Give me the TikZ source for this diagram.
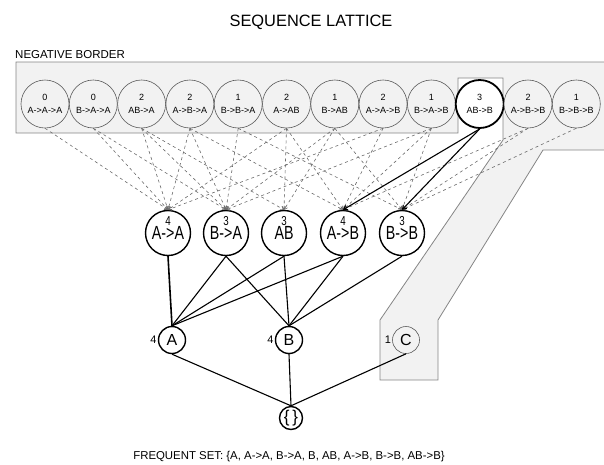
\documentclass[tikz,border=0pt]{standalone}
\usepackage{fontspec}
\setmainfont{Liberation Sans}
\newfontfamily\narrowfont[FakeStretch=0.75]{Liberation Sans}
\usetikzlibrary{arrows.meta}

\definecolor{regiongray}{HTML}{F2F2F2}
\definecolor{regionline}{HTML}{858585}
\definecolor{negline}{HTML}{5A5A5A}
\definecolor{dashline}{HTML}{6A6A6A}

\tikzset{
  negnode/.style={circle, draw=negline, line width=0.6pt, fill=regiongray,
    minimum size=48pt, inner sep=0pt, align=center,
    font=\fontsize{9}{12.5}\selectfont},
  freqneg/.style={negnode, draw=black, line width=1.8pt, fill=white},
  seqnode/.style={circle, draw=black, line width=1.4pt, fill=white,
    minimum size=45pt, inner sep=0pt, font=\narrowfont\fontsize{19}{19}\selectfont},
  itemnode/.style={circle, draw=black, line width=1.4pt, fill=white,
    minimum size=27pt, inner sep=0pt, font=\fontsize{16}{16}\selectfont,
    label distance=2pt},
  infreq/.style={itemnode, draw=negline, line width=0.6pt, fill=regiongray},
  countlab/.style={font=\fontsize{11}{11}\selectfont, inner sep=1pt},
  seqcount/.style={font=\narrowfont\fontsize{13}{13}\selectfont, inner sep=0pt},
  dashedge/.style={dashed, draw=dashline, line width=0.6pt,
    -{Straight Barb[length=3pt,width=4pt]}},
  solidedge/.style={draw=black, line width=1.1pt},
  headedge/.style={solidedge, -{Straight Barb[length=3.5pt,width=5pt]}}
}

\begin{document}
\begin{tikzpicture}[x=1pt, y=-1pt]
  \def \xstart {45}
  \def \xstep  {48.3}
  \def \ytop   {104}
  \def \yseq   {233}
  \def \yitem  {340}
  \def \yempty {418}

  \useasboundingbox (0,0) rectangle (604,464);

% negative border region
  \filldraw [fill=regiongray, draw=regionline, line width=0.8pt]
    (16,62) -- (620,62) -- (620,150) -- (543,150) -- (438,320) -- (438,380)
    -- (380,380) -- (380,320) -- (503,140) -- (503,78) -- (458,78) -- (458,133)
    -- (16,133) -- cycle;

% titles
  \node (title) at (311,22) {\fontsize{16.4}{16.4}\selectfont SEQUENCE LATTICE};
  \node [anchor=base west, inner sep=0pt] (negtitle) at (15,58)
    {\fontsize{11.5}{11.5}\selectfont NEGATIVE BORDER};
  \node (freqtitle) at (289,457)
    {\fontsize{11.4}{11.4}\selectfont FREQUENT SET: \{A, A->A, B->A, B, AB, A->B, B->B, AB->B\}};

% negative border
  \node [negnode] (AtoAtoA) at (\xstart+0*\xstep, \ytop) {0\\A->A->A};
  \node [negnode] (BtoAtoA) at (\xstart+1*\xstep, \ytop) {0\\B->A->A};
  \node [negnode] (ABtoA)   at (\xstart+2*\xstep, \ytop) {2\\AB->A};
  \node [negnode] (AtoBtoA) at (\xstart+3*\xstep, \ytop) {2\\A->B->A};
  \node [negnode] (BtoBtoA) at (\xstart+4*\xstep, \ytop) {1\\B->B->A};
  \node [negnode] (AtoAB)   at (\xstart+5*\xstep, \ytop) {2\\A->AB};
  \node [negnode] (BtoAB)   at (\xstart+6*\xstep, \ytop) {1\\B->AB};
  \node [negnode] (AtoAtoB) at (\xstart+7*\xstep, \ytop) {2\\A->A->B};
  \node [negnode] (BtoAtoB) at (\xstart+8*\xstep, \ytop) {1\\B->A->B};
  \node [freqneg] (ABtoB)   at (\xstart+9*\xstep, \ytop) {3\\AB->B};
  \node [negnode] (AtoBtoB) at (\xstart+10*\xstep, \ytop) {2\\A->B->B};
  \node [negnode] (BtoBtoB) at (\xstart+11*\xstep, \ytop) {1\\B->B->B};

% 2-sequences
  \node [seqnode] (AtoA) at (168, \yseq) {A->A};
  \node [seqnode] (BtoA) at (226, \yseq) {B->A};
  \node [seqnode] (AB)   at (284, \yseq) {AB};
  \node [seqnode] (AtoB) at (343, \yseq) {A->B};
  \node [seqnode] (BtoB) at (402, \yseq) {B->B};
  \node [seqcount] (cAtoA) at ([yshift=11.5pt]AtoA.center) {4};
  \node [seqcount] (cBtoA) at ([yshift=11.5pt]BtoA.center) {3};
  \node [seqcount] (cAB)   at ([yshift=11.5pt]AB.center)   {3};
  \node [seqcount] (cAtoB) at ([yshift=11.5pt]AtoB.center) {4};
  \node [seqcount] (cBtoB) at ([yshift=11.5pt]BtoB.center) {3};

% items
  \node [itemnode, label={[countlab]left:4}] (A) at (172, \yitem) {A};
  \node [itemnode, label={[countlab]left:4}] (B) at (289, \yitem) {B};
  \node [infreq, label={[countlab]left:1}]   (C) at (406, \yitem) {C};
  \node [itemnode, minimum size=23pt, font=\fontsize{17}{17}\selectfont] (E) at (291, \yempty) {\{\,\}};

% dashed edges from the negative border
  \foreach \s/\t in {AtoAtoA/AtoA, BtoAtoA/AtoA, BtoAtoA/BtoA,
                     ABtoA/AtoA, ABtoA/BtoA, ABtoA/AB,
                     AtoBtoA/AtoA, AtoBtoA/BtoA, AtoBtoA/AtoB,
                     BtoBtoA/BtoA, BtoBtoA/BtoB,
                     AtoAB/AtoA, AtoAB/AB, AtoAB/AtoB,
                     BtoAB/BtoA, BtoAB/AB, BtoAB/BtoB,
                     AtoAtoB/AtoA, AtoAtoB/AtoB,
                     BtoAtoB/BtoA, BtoAtoB/AtoB, BtoAtoB/BtoB,
                     AtoBtoB/AtoB, AtoBtoB/BtoB, BtoBtoB/BtoB}
    \draw [dashedge] (\s.south) -- (\t.north);

% frequent AB->B
  \draw [headedge] (ABtoB.south) -- (AtoB.north);
  \draw [headedge] (ABtoB.south) -- (BtoB.north);

% 2-sequences to items
  \draw [solidedge, line width=1.6pt] (AtoA.south) -- (A.north);
  \foreach \s/\t in {BtoA/A, BtoA/B, AB/A, AB/B, AtoB/A, AtoB/B, BtoB/B}
    \draw [solidedge] (\s.south) -- (\t.north);

% items to empty set
  \foreach \s in {A, B, C}
    \draw [solidedge] (\s.south) -- (E.north);

\end{tikzpicture}
\end{document}
